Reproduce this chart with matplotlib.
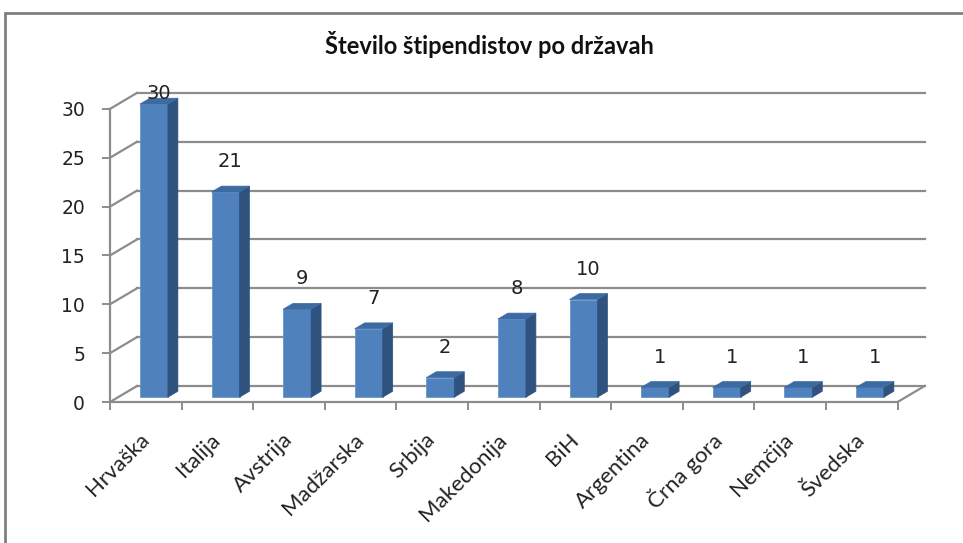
import numpy as np
import matplotlib
matplotlib.use("Agg")
import matplotlib.pyplot as plt
from matplotlib.patches import Polygon, Rectangle

# ---- Data ----
countries = ["Hrvaška", "Italija", "Avstrija", "Madžarska", "Srbija", "Makedonija",
             "BiH", "Argentina", "Črna gora", "Nemčija", "Švedska"]
counts = [30, 21, 9, 7, 2, 8, 10, 1, 1, 1, 1]
y_ticks = [0, 5, 10, 15, 20, 25, 30]
title = "Število štipendistov po državah"

# ---- Layout (pixels of the 963x543 image) ----
W, H = 963, 543
X0, Y0 = 110, 402          # front origin
CAT_PX, UNIT_PX = 71.6, 9.77
DXP, DYP = 27, 16          # depth offset of the back wall
n = len(countries)
ymax = y_ticks[-1]
DX, DY = DXP / CAT_PX, DYP / UNIT_PX
F0, F1 = 0.30, 0.67        # bar depth (fraction of wall depth)
BW = 28 / CAT_PX           # bar front width

GRID = "#8c8c8c"
FRONT, SIDE, TOP = "#4f81bd", "#30527e", "#3c6ba4"
SANS = ["Lato", "DejaVu Sans"]

fig = plt.figure(figsize=(W / 100, H / 100), dpi=100)
ax = fig.add_axes([X0 / W, 1 - Y0 / H, (n * CAT_PX + DXP) / W, (ymax * UNIT_PX + DYP) / H])
ax.set_xlim(0, n + DX)
ax.set_ylim(0, ymax + DY)
ax.patch.set_alpha(0)

for s in ["top", "right"]:
    ax.spines[s].set_visible(False)
ax.spines["left"].set_bounds(0, ymax)
ax.spines["bottom"].set_bounds(0, n)
for s in ["left", "bottom"]:
    ax.spines[s].set_color(GRID)
    ax.spines[s].set_linewidth(1.6)

# y axis
ax.set_yticks(y_ticks)
ax.set_yticklabels([str(v) for v in y_ticks], fontsize=13.5, color="#222222")
ax.tick_params(axis="y", direction="out", length=6, width=1.4, color=GRID, pad=12)

# x axis: boundaries as major ticks, names as minor labels
ax.set_xticks(np.arange(n + 1))
ax.set_xticklabels([])
ax.set_xticks(np.arange(n) + 0.5, minor=True)
ax.set_xticklabels(countries, minor=True, rotation=45, ha="right", va="center",
                   rotation_mode="anchor", fontsize=16, family=SANS, color="#222222")
ax.tick_params(axis="x", which="major", direction="out", length=6, width=1.4, color=GRID)
ax.tick_params(axis="x", which="minor", length=0, pad=25)

# back wall gridlines and left wall diagonals
for v in y_ticks:
    ax.plot([DX, n + DX], [v + DY, v + DY], color=GRID, lw=1.6, zorder=1, clip_on=False)
    ax.plot([0, DX], [v, v + DY], color=GRID, lw=1.6, zorder=1, clip_on=False)
ax.plot([n, n + DX], [0, DY], color=GRID, lw=1.6, zorder=1, clip_on=False)

# 3D-looking bars
b0 = F0 * DY
ddx, ddy = (F1 - F0) * DX, (F1 - F0) * DY
for i, v in enumerate(counts):
    xl = i + 0.5 + F0 * DX - BW / 2
    xr = xl + BW
    ax.bar(xl, v, width=BW, bottom=b0, align="edge", color=FRONT,
           edgecolor="#6a95c9", linewidth=0.6, zorder=3)
    side = Polygon([(xr, b0), (xr + ddx, b0 + ddy), (xr + ddx, v + b0 + ddy), (xr, v + b0)],
                   closed=True, facecolor=SIDE, edgecolor=SIDE, lw=0.5, zorder=3)
    top = Polygon([(xl, v + b0), (xr, v + b0), (xr + ddx, v + b0 + ddy), (xl + ddx, v + b0 + ddy)],
                  closed=True, facecolor=TOP, edgecolor=TOP, lw=0.5, zorder=3)
    ax.add_patch(side)
    ax.add_patch(top)
    ly = min(v + b0 + 3.1, ymax + DY - 0.1)
    ax.text(i + 0.5 + (F0 + F1) / 2 * DX, ly, str(v), ha="center", va="center",
            fontsize=14, color="#222222", zorder=4, clip_on=False)

fig.text(489 / W, 1 - 45 / H, title, ha="center", va="center", fontsize=17,
         fontweight="bold", family=SANS, color="#111111")

# outer chart border (clipped on the right and bottom)
fig.add_artist(Rectangle((5 / W, -0.1), 1.2, 1.1 - 13 / H, transform=fig.transFigure,
                         fill=False, edgecolor="#808080", linewidth=2, clip_on=False))

fig.savefig("out.png", dpi=100)
